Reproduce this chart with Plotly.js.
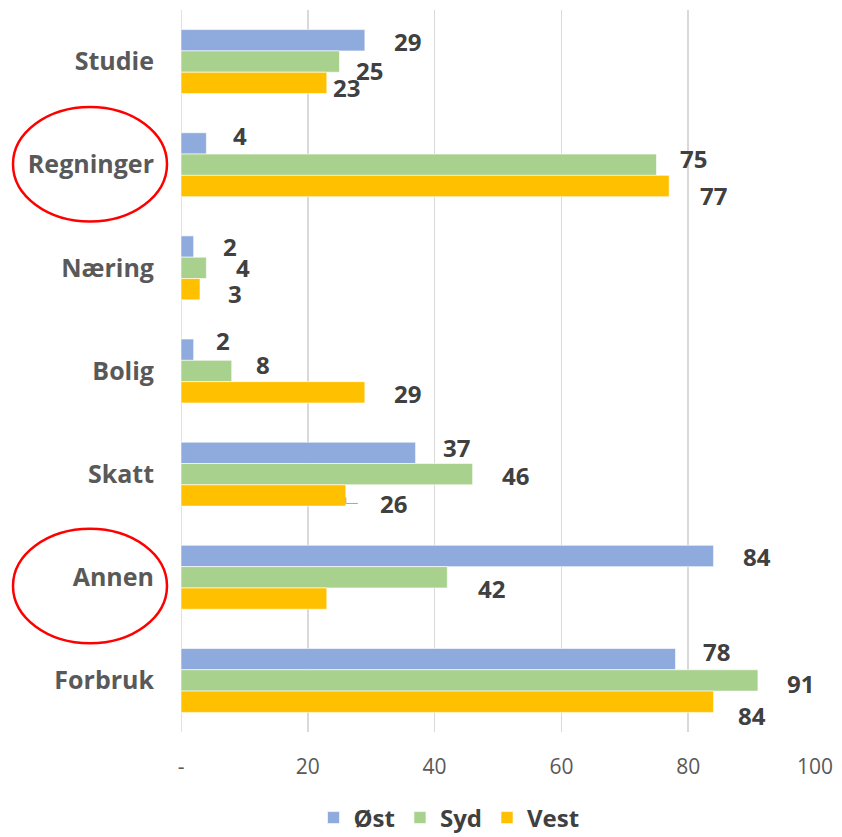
<!DOCTYPE html>
<html>
<head>
<meta charset="utf-8">
<script src="https://cdn.plot.ly/plotly-3.0.1.min.js"></script>
<style>html,body{margin:0;padding:0;background:#fff;}#chart{width:842px;height:837px;}</style>
</head>
<body>
<div id="chart"></div>
<script>
// ---- data ----
const categories = ['Studie', 'Regninger', 'Næring', 'Bolig', 'Skatt', 'Annen', 'Forbruk'];
const seriesNames = ['Øst', 'Syd', 'Vest'];
const ost  = [29, 4, 2, 2, 37, 84, 78];
const syd  = [25, 75, 4, 8, 46, 42, 91];
const vest = [23, 77, 3, 29, 26, 23, 84];
const showLabel = [
  [true, true, true, true, true, true, true],
  [true, true, true, true, true, true, true],
  [true, true, true, true, true, false, true]
];
const xTickVals = [0, 20, 40, 60, 80, 100];
const xTickText = ['-', '20', '40', '60', '80', '100'];
const highlighted = ['Regninger', 'Annen'];

// ---- style / label placement (pixel nudges, not data) ----
const colors = ['#8FAADC', '#A9D18E', '#FFC000'];
const labelDx = [
  [43, 34, 36, 29, 41, 43, 41],
  [30, 37, 37, 31, 43, 44, 43],
  [20, 44, 35, 43, 48, 0, 38]
];
const labelDy = [
  [1, -8, 0, -9, -5, 1, -8],
  [9, -6, 0, -7, 1, 11, 3],
  [5, 9, 4, 1, 8, 0, 14]
];

const FONT = '"Open Sans", Lato, sans-serif';
const values = [ost, syd, vest];
const W = 842, H = 837;
const margin = {l: 181, r: 27, t: 10, b: 105, autoexpand: false};
const bargap = 0.38;
const plotW = W - margin.l - margin.r;
const plotH = H - margin.t - margin.b;
const catPx = plotH / categories.length;
const barPx = catPx * (1 - bargap) / 3;

const traces = values.map((v, i) => ({
  type: 'bar',
  orientation: 'h',
  name: seriesNames[i],
  y: categories,
  x: v,
  marker: {color: colors[i], line: {color: 'rgba(255,255,255,0.6)', width: 1}},
  hoverinfo: 'x+y'
}));

const annotations = [];
values.forEach((v, s) => {
  const barOffset = (s - 1) * barPx; // px downward from category centre
  v.forEach((val, c) => {
    if (!showLabel[s][c]) return;
    annotations.push({
      x: val, y: categories[c], xref: 'x', yref: 'y',
      text: String(val), showarrow: false,
      xanchor: 'center', yanchor: 'middle',
      xshift: labelDx[s][c],
      yshift: -(barOffset + labelDy[s][c]),
      font: {family: FONT, size: 24, color: '#404040', weight: 'bold'}
    });
  });
});

const shapes = highlighted.map((cat, k) => {
  const idx = categories.indexOf(cat);
  const off = k === 0 ? 0 : 0.09;
  return {
    type: 'circle', xref: 'paper', yref: 'y',
    x0: (13 - margin.l) / plotW,
    x1: (167 - margin.l) / plotW,
    y0: idx - 0.56 + off, y1: idx + 0.55 + off,
    line: {color: '#FF0000', width: 2.5},
    fillcolor: 'rgba(0,0,0,0)'
  };
});

// small leader line on Skatt / Vest label
const skIdx = categories.indexOf('Skatt');
shapes.push({
  type: 'path', xref: 'x', yref: 'y', xsizemode: 'pixel', ysizemode: 'pixel',
  xanchor: vest[skIdx], yanchor: skIdx,
  path: 'M 0,' + (-(barPx + 2)) + ' L 0,' + (-(barPx + 8)) + ' L 12,' + (-(barPx + 8)),
  line: {color: '#A6A6A6', width: 1}
});

const layout = {
  width: W, height: H,
  margin: margin,
  paper_bgcolor: '#fff', plot_bgcolor: '#fff',
  barmode: 'group',
  bargap: bargap,
  bargroupgap: 0,
  font: {family: FONT, color: '#595959'},
  showlegend: true,
  legend: {
    orientation: 'h', x: (449 - margin.l) / plotW, xanchor: 'center',
    y: -86 / plotH, yanchor: 'middle',
    font: {family: FONT, size: 24, color: '#404040', weight: 'bold'},
    traceorder: 'normal', itemwidth: 30
  },
  xaxis: {
    range: [0, 100], tickvals: xTickVals, ticktext: xTickText,
    showgrid: true, gridcolor: '#D9D9D9', gridwidth: 1.5,
    zeroline: false, showline: false, ticks: '',
    ticklabelstandoff: 20,
    tickfont: {family: FONT, size: 21, color: '#595959'},
    fixedrange: true
  },
  yaxis: {
    type: 'category', autorange: 'reversed',
    showgrid: false, zeroline: false, showline: false, ticks: '',
    ticklabelstandoff: 26,
    tickfont: {family: FONT, size: 25, color: '#595959', weight: 'bold'},
    fixedrange: true
  },
  shapes: shapes,
  annotations: annotations
};

layout.shapes.push({
  type: 'line', xref: 'x', yref: 'paper', x0: 0, x1: 0, y0: 0, y1: 1,
  line: {color: '#D9D9D9', width: 1.5}, layer: 'below'
});

Plotly.newPlot('chart', traces, layout, {displayModeBar: false, staticPlot: true});
</script>
</body>
</html>
